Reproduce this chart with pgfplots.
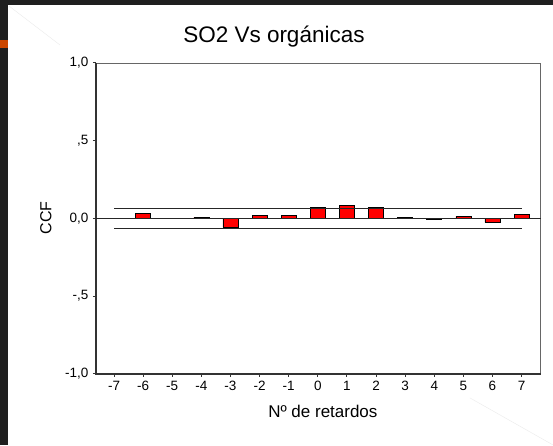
\documentclass[border=0pt]{standalone}
\usepackage{pgfplots}
\pgfplotsset{compat=1.18}
\usepackage{fontspec}
\setmainfont{Liberation Sans}
\begin{document}
\begin{tikzpicture}
% slide background
\fill[black!88] (0pt,0pt) rectangle (553pt,445pt);
\fill[white] (8pt,0pt) rectangle (553pt,440pt);
\fill[orange!70!red!80!black] (0pt,397pt) rectangle (8pt,405pt);
\draw[black!8, line width=0.4pt] (9pt,439pt) -- (60pt,400pt);
\draw[black!8, line width=0.4pt] (470pt,47pt) -- (553pt,0pt);
\begin{axis}[
  at={(96pt,71pt)}, anchor=south west,
  scale only axis, width=444.7pt, height=311pt,
  xmin=-7.62, xmax=7.65, ymin=-1, ymax=1,
  axis line style={black!60, line width=0.5pt},
  xtick={-7,-6,-5,-4,-3,-2,-1,0,1,2,3,4,5,6,7},
  xticklabels={-7,-6,-5,-4,-3,-2,-1,0,1,2,3,4,5,6,7},
  ytick={-1,-0.5,0,0.5,1},
  yticklabels={{-1,0},{-,5},{0,0},{,5},{1,0}},
  xtick pos=bottom, ytick pos=left,
  tick align=outside,
  major tick length=3pt,
  tick style={black!80, line width=1pt},
  ticklabel style={font=\fontsize{13.5}{15}\selectfont},
  xticklabel style={yshift=-1pt},
  yticklabel style={xshift=-1pt},
  clip=false,
]
\draw[black!80, line width=1.4pt] (rel axis cs:0,1) -- (rel axis cs:0,0) -- (rel axis cs:1,0);
\addplot[ybar, bar width=15pt, fill=red, draw=black, line width=0.7pt] coordinates {
  (-7,0) (-6,0.032) (-5,0) (-4,0.009) (-3,-0.058) (-2,0.019) (-1,0.019)
  (0,0.070) (1,0.083) (2,0.070) (3,0.009) (4,-0.006) (5,0.013) (6,-0.026) (7,0.026)
};
\addplot[black!85, line width=0.6pt] coordinates {(-7.62,0) (7.65,0)};
\addplot[black!85, line width=0.6pt] coordinates {(-7,0.064) (7,0.064)};
\addplot[black!85, line width=0.6pt] coordinates {(-7,-0.064) (7,-0.064)};
\end{axis}
\node[font=\fontsize{22.5}{26}\selectfont] at (274pt,408pt) {SO2 Vs orgánicas};
\node[font=\fontsize{17}{20}\selectfont] at (323pt,33pt) {Nº de retardos};
\node[font=\fontsize{16}{18}\selectfont, rotate=90] at (46pt,227pt) {CCF};
\end{tikzpicture}
\end{document}
